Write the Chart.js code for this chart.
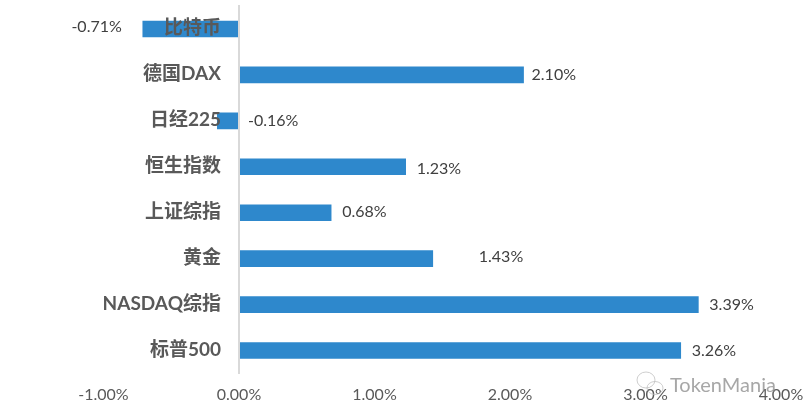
<!DOCTYPE html>
<html>
<head>
<meta charset="utf-8">
<script src="https://cdn.jsdelivr.net/npm/chart.js@4"></script>
<style>
html,body{margin:0;padding:0;background:#fff;}
canvas{display:block;}
</style>
</head>
<body>
<canvas id="chart" width="810" height="419"></canvas>
<script>
const categories=["比特币","德国DAX","日经225","恒生指数","上证综指","黄金","NASDAQ综指","标普500"];
const changes=[-0.71,2.10,-0.16,1.23,0.68,1.43,3.39,3.26];
const xTicks=[-1,0,1,2,3,4];
const watermark="TokenMania";

// labels were moved by hand in the original, so each one has its own shift from the bar end
const labelShift=[[-21,-2],[8,0],[9,0],[11,2],[11,-1],[46,-2],[11,0],[11,0]];

const pct=(v)=>v.toFixed(2)+"%";

const barLabels={
    id:"barLabels",
    afterDatasetsDraw(chart){
        const ctx=chart.ctx;
        const bars=chart.getDatasetMeta(0).data;
        const zero=chart.scales.x.getPixelForValue(0);
        ctx.save();
        ctx.textBaseline="middle";
        bars.forEach((bar,i)=>{
            const v=changes[i];
            // -0.16% sits to the right of the axis, -0.71% to the left of its bar
            const start=v>=0?bar.x:(i==2?zero:bar.x);
            ctx.font="16px Lato";
            ctx.fillStyle="#404040";
            ctx.textAlign=(v<0&&i!=2)?"right":"left";
            ctx.fillText(pct(v),start+labelShift[i][0],bar.y+labelShift[i][1]);
            // category names lie over the bars, beside the axis at zero
            ctx.font="bold 19px Lato, 'Noto Sans CJK SC'";
            ctx.fillStyle="#595959";
            ctx.textAlign="right";
            ctx.fillText(categories[i],zero-18,bar.y-1);
        });
        ctx.restore();
    }
};

const mark={
    id:"mark",
    afterDraw(chart){
        const ctx=chart.ctx;
        ctx.save();
        ctx.globalAlpha=0.75;
        ctx.strokeStyle="#bdbdbd";
        ctx.lineWidth=1;
        ctx.beginPath();
        ctx.ellipse(646,380,9,8,0,0,Math.PI*2);
        ctx.stroke();
        ctx.beginPath();
        ctx.ellipse(655,388,8,6.5,0,0,Math.PI*2);
        ctx.stroke();
        ctx.font="20px Lato";
        ctx.fillStyle="#8a8a8a";
        ctx.textAlign="left";
        ctx.textBaseline="middle";
        ctx.fillText(watermark,670,386);
        ctx.restore();
    }
};

new Chart(document.getElementById("chart"),{
    type:"bar",
    data:{
        labels:categories,
        datasets:[{
            data:changes,
            backgroundColor:"#2E88CC",
            barThickness:16
        }]
    },
    options:{
        indexAxis:"y",
        responsive:false,
        animation:false,
        layout:{padding:{left:103.5,right:29,top:6,bottom:2.5}},
        plugins:{legend:{display:false},tooltip:{enabled:false}},
        scales:{
            x:{
                min:xTicks[0],
                max:xTicks[xTicks.length-1],
                afterBuildTicks(axis){axis.ticks=xTicks.map((v)=>({value:v}));},
                afterFit(axis){axis.paddingLeft=0;axis.paddingRight=0;axis.height=43;},
                grid:{display:false},
                border:{display:false},
                ticks:{
                    padding:3.5,
                    maxRotation:0,
                    color:"#595959",
                    font:{family:"Lato",size:16},
                    callback:(v)=>pct(v)
                }
            },
            y:{
                position:{x:0},
                grid:{display:false,drawTicks:false},
                border:{display:true,color:"#D9D9D9",width:2,z:1},
                ticks:{display:false}
            }
        }
    },
    plugins:[barLabels,mark]
});
</script>
</body>
</html>
